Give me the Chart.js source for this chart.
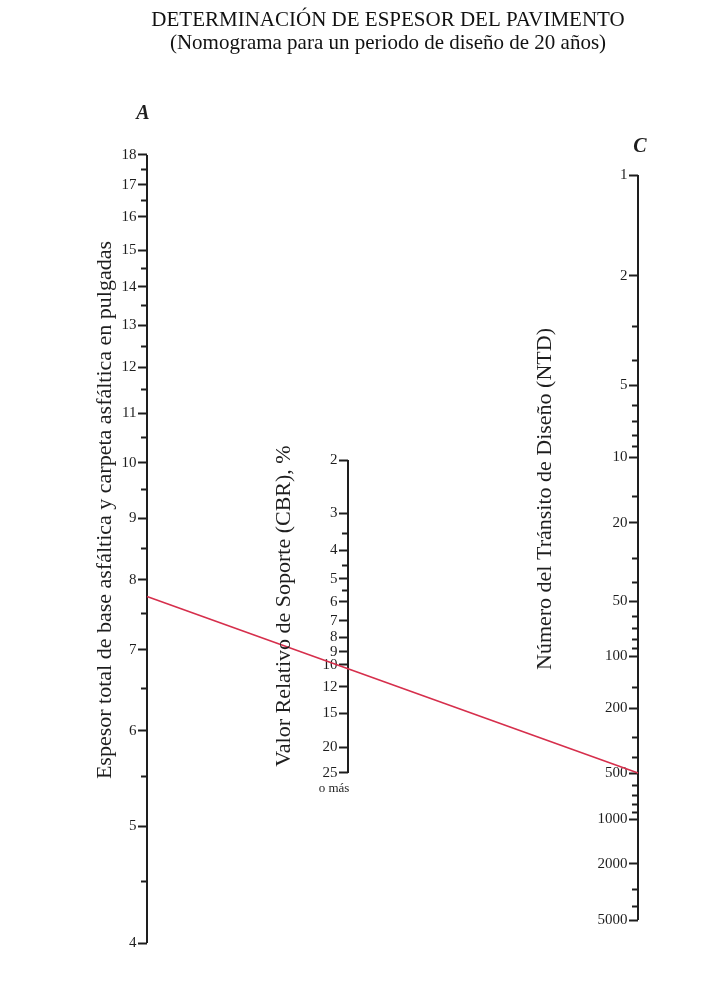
<!DOCTYPE html>
<html>
<head>
<meta charset="utf-8">
<script src="https://cdn.jsdelivr.net/npm/chart.js@4/dist/chart.umd.min.js"></script>
<style>
  html, body { margin: 0; padding: 0; background: #fff; }
  #wrap { width: 728px; height: 986px; }
</style>
</head>
<body>
<div id="wrap"><canvas id="nomograma"></canvas></div>
<script>
// escalas del nomograma
const espesorMayor = [4, 5, 6, 7, 8, 9, 10, 11, 12, 13, 14, 15, 16, 17, 18];
const espesorMenor = [4.5, 5.5, 6.5, 7.5, 8.5, 9.5, 10.5, 11.5, 12.5, 13.5, 14.5, 16.5, 17.5];
const cbrMayor = [2, 3, 4, 5, 6, 7, 8, 9, 10, 12, 15, 20, 25];
const cbrMenor = [3.5, 4.5, 5.5];
const ntdMayor = [1, 2, 5, 10, 20, 50, 100, 200, 500, 1000, 2000, 5000];
const ntdMenor = [3, 4, 6, 7, 8, 9, 15, 30, 40, 60, 70, 80, 90, 150, 300, 400, 600, 700, 800, 900, 3000, 4000];

// linea de ejemplo (espesor, CBR, NTD)
const ejemplo = [7.75, 10, 500];

const serif = "'Liberation Serif', 'DejaVu Serif', serif";
const tinta = '#1e1e1e';

// transformaciones de cada escala
const tA = v => Math.log10(v);
const tB = v => Math.log10(v) - 0.06 * Math.log10(v) ** 2;
const tC = v => Math.sqrt(Math.log10(v) + 0.58);

// posiciones horizontales de las escalas
const xA = 147, xB = 348, xC = 638;
// area del grafico: 120 .. 960
const areaTop = 120, areaBottom = 960;

// rango de cada escala a partir de dos marcas conocidas
function rango(t1, p1, t2, p2) {
  const k = (t2 - t1) / (p2 - p1);
  return [t1 + (areaTop - p1) * k, t1 + (areaBottom - p1) * k];
}
const rA = rango(tA(18), 155, tA(4), 943);
const rB = rango(tB(2), 460, tB(25), 773);
const rC = rango(tC(1), 175, tC(5000), 920);

function escala(x, r, valores, t, largo, etiquetas) {
  const lo = Math.min(r[0], r[1]), hi = Math.max(r[0], r[1]);
  return {
    type: 'linear',
    position: { x: x },
    min: lo,
    max: hi,
    reverse: r[0] < r[1],
    border: { display: false },
    grid: { drawOnChartArea: false, drawTicks: true, tickLength: largo, tickWidth: 2, tickColor: tinta },
    afterBuildTicks: s => { s.ticks = valores.map(v => ({ value: t(v) })); },
    ticks: {
      display: etiquetas,
      autoSkip: false,
      color: tinta,
      font: { family: serif, size: 15 },
      // etiqueta separada del eje (el texto se alinea contra la linea)
      callback: (val, i) => valores[i] + '\u2002\u2009'
    }
  };
}

function eje(x, id, valores, t) {
  return {
    data: [{ x: x, y: t(valores[0]) }, { x: x, y: t(valores[valores.length - 1]) }],
    yAxisID: id,
    borderColor: tinta,
    borderWidth: 2,
    pointRadius: 0
  };
}

// textos y linea de ejemplo
const extras = {
  id: 'extras',
  afterDatasetsDraw(chart) {
    const c = chart.ctx, s = chart.scales;
    c.save();
    c.strokeStyle = '#d62f4c';
    c.lineWidth = 1.6;
    c.beginPath();
    c.moveTo(s.x.getPixelForValue(xA), s.yA.getPixelForValue(tA(ejemplo[0])));
    c.lineTo(s.x.getPixelForValue(xC), s.yC.getPixelForValue(tC(ejemplo[2])));
    c.stroke();

    c.fillStyle = tinta;
    c.textAlign = 'center';
    c.textBaseline = 'middle';
    c.font = 'italic bold 20px ' + serif;
    c.fillText('A', s.x.getPixelForValue(xA) - 4, 114);
    c.fillText('C', s.x.getPixelForValue(xC) + 2, 147);

    c.font = '13px ' + serif;
    c.fillText('o más', s.x.getPixelForValue(xB) - 14, s.yB.getPixelForValue(tB(25)) + 16);

    const vertical = (txt, x, y) => {
      c.save();
      c.translate(x, y);
      c.rotate(-Math.PI / 2);
      c.fillText(txt, 0, 0);
      c.restore();
    };
    c.font = '22px ' + serif;
    vertical('Espesor total de base asfáltica y carpeta asfáltica en pulgadas', 105, 510);
    vertical('Valor Relativo de Soporte (CBR), %', 284, 606);
    vertical('Número del Tránsito de Diseño (NTD)', 545, 499);
    c.restore();
  }
};

new Chart(document.getElementById('nomograma'), {
  type: 'line',
  data: {
    datasets: [
      eje(xA, 'yA', espesorMayor, tA),
      eje(xB, 'yB', cbrMayor, tB),
      eje(xC, 'yC', ntdMayor, tC)
    ]
  },
  options: {
    responsive: true,
    maintainAspectRatio: false,
    animation: false,
    layout: { padding: { top: 0, left: 48, right: 0, bottom: 26 } },
    scales: {
      x: { type: 'linear', min: 48, max: 728, display: false },
      yA: escala(xA, rA, espesorMayor, tA, 9, true),
      yAm: escala(xA, rA, espesorMenor, tA, 6, false),
      yB: escala(xB, rB, cbrMayor, tB, 9, true),
      yBm: escala(xB, rB, cbrMenor, tB, 6, false),
      yC: escala(xC, rC, ntdMayor, tC, 9, true),
      yCm: escala(xC, rC, ntdMenor, tC, 6, false)
    },
    plugins: {
      legend: { display: false },
      tooltip: { enabled: false },
      title: {
        display: true,
        text: 'DETERMINACIÓN DE ESPESOR DEL PAVIMENTO',
        color: '#111',
        font: { family: serif, size: 21, weight: 'normal', lineHeight: 1 },
        padding: { top: 9.5, bottom: 0 }
      },
      subtitle: {
        display: true,
        text: '(Nomograma para un periodo de diseño de 20 años)',
        color: '#111',
        font: { family: serif, size: 21, weight: 'normal', lineHeight: 1 },
        padding: { top: 2, bottom: 66.5 }
      }
    }
  },
  plugins: [extras]
});
</script>
</body>
</html>
